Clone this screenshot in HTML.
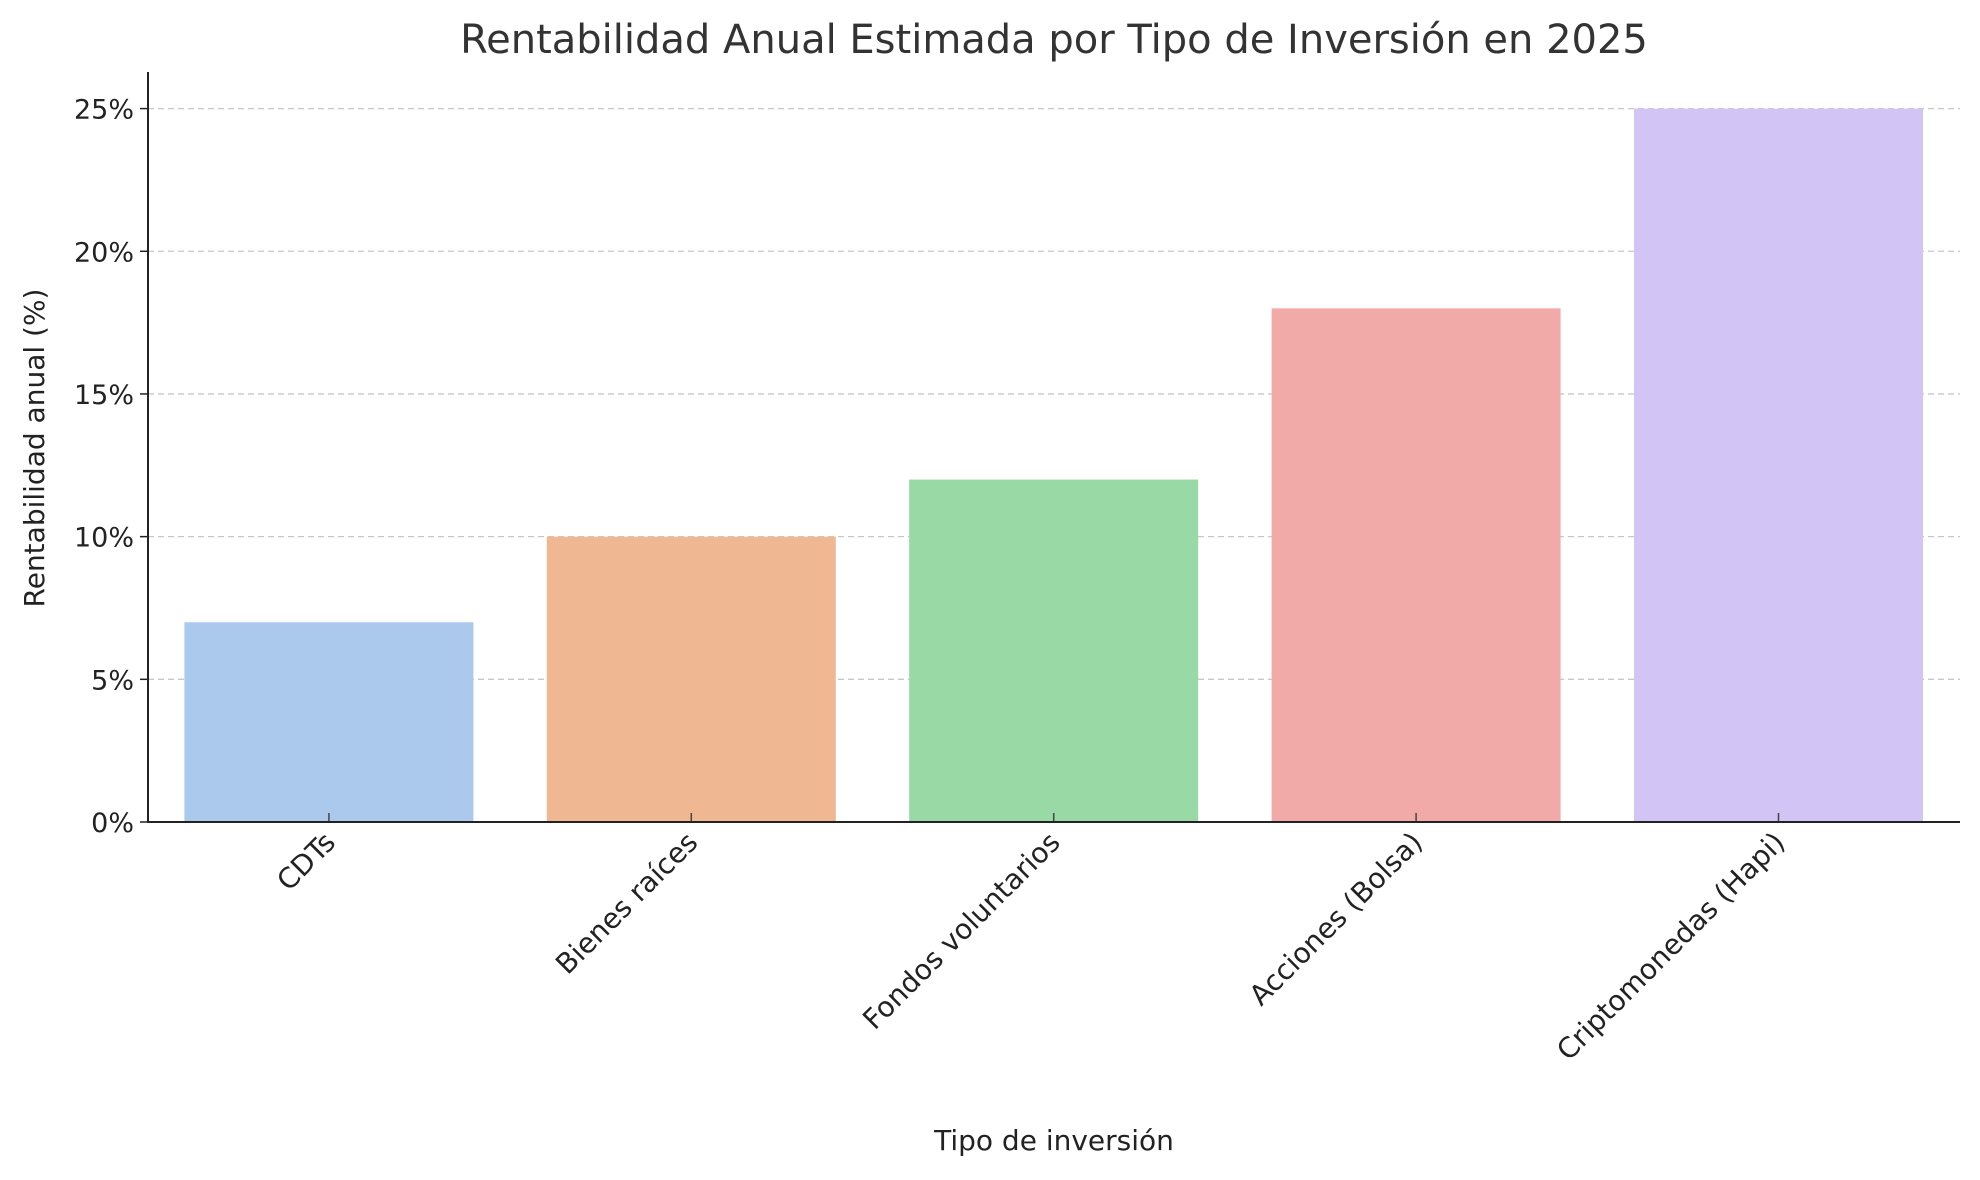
<!DOCTYPE html>
<html><head><meta charset="utf-8"><style>
body{margin:0;background:#fff;}
svg{display:block;font-family:"DejaVu Sans","Liberation Sans",sans-serif;}
</style></head><body>
<svg id="chart" width="1980" height="1180" viewBox="0 0 1980 1180">
<rect width="1980" height="1180" fill="#fff"/>
<text x="1054" y="53" font-size="40" text-anchor="middle" fill="#333">Rentabilidad Anual Estimada por Tipo de Inversión en 2025</text>
<g id="grid"></g>
<g id="bars"></g>
<g id="axes"></g>
<text x="1054" y="1150" font-size="28" text-anchor="middle" fill="#222">Tipo de inversión</text>
<text transform="translate(44,448) rotate(-90)" font-size="28" text-anchor="middle" fill="#222">Rentabilidad anual (%)</text>
</svg>
<script>
const categories = ["CDTs","Bienes raíces","Fondos voluntarios","Acciones (Bolsa)","Criptomonedas (Hapi)"];
const values = [7,10,12,18,25];
const colors = ["#abc9ed","#f0b892","#98d9a6","#f2aaa9","#d2c4f5"];
const yTicks = [0,5,10,15,20,25];
const yTickLabels = ["0%","5%","10%","15%","20%","25%"];

const NS="http://www.w3.org/2000/svg";
const left=148, right=1960, y0=822, y25=108.6;
const yScale=v=>y0-(v/25)*(y0-y25);
const bandStart=148, band=362.4, barW=289, firstCenter=184.4+144.5;
const xCenter=i=>firstCenter+i*band;
function mk(tag,attrs,parent){const e=document.createElementNS(NS,tag);for(const k in attrs)e.setAttribute(k,attrs[k]);parent.appendChild(e);return e;}
const grid=document.getElementById('grid'),bars=document.getElementById('bars'),axes=document.getElementById('axes');
yTicks.forEach((t,i)=>{
  const y=yScale(t);
  if(t>0){const g=mk('line',{x1:left,x2:right,y1:y,y2:y,stroke:'#c8c8c8','stroke-width':1.3,'stroke-dasharray':'6,4'},grid);
  
  }
  const tk=mk('line',{x1:left-8,x2:left,y1:y,y2:y,stroke:'#222','stroke-width':1.5},axes);
  
  
  const tx=mk('text',{x:left-14,y:y+10,'font-size':27,'text-anchor':'end',fill:'#222'},axes);
  tx.textContent=yTickLabels[i];
  
  
});
categories.forEach((c,i)=>{
  const cx=xCenter(i), y=yScale(values[i]);
  const r=mk('rect',{x:cx-barW/2,y:y,width:barW,height:y0-y,fill:colors[i]},bars);
  
  
  const tk=mk('line',{x1:cx,x2:cx,y1:y0-9,y2:y0,stroke:'#444','stroke-width':1.5},axes);
  
  
  const tx=mk('text',{transform:`translate(${cx+8},${y0+22}) rotate(-45)`,'font-size':28,'text-anchor':'end',fill:'#222'},axes);
  tx.textContent=c;
  
  
});
const ax=mk('line',{x1:left,x2:right,y1:y0,y2:y0,stroke:'#222','stroke-width':2},axes);


const ay=mk('line',{x1:left,x2:left,y1:72,y2:y0+1,stroke:'#222','stroke-width':2},axes);


</script>
</body></html>
